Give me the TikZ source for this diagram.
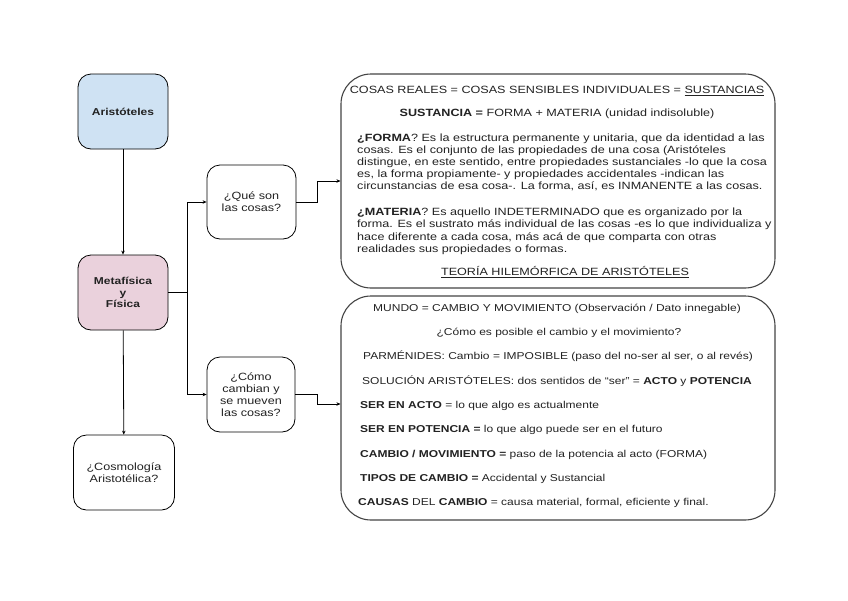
\documentclass[tikz,border=0pt]{standalone}
\usepackage{fontspec}
\setmainfont{Liberation Sans}[FakeStretch=1.2]
\usetikzlibrary{arrows.meta}
\definecolor{blueA}{HTML}{CFE2F3}
\definecolor{pinkA}{HTML}{EAD1DC}
\definecolor{edgeA}{HTML}{444444}
\definecolor{txtA}{HTML}{222222}
\begin{document}
\begin{tikzpicture}[x=1pt,y=-1pt,
  smallbox/.style={draw=black, line width=0.8pt, rounded corners=13pt, align=center,
    font=\fontsize{10.5}{12}\selectfont, text=txtA, inner sep=0pt},
  bigbox/.style={draw=edgeA, line width=1.1pt, rounded corners=30pt, inner sep=0pt,
    minimum width=434pt},
  txt/.style={inner sep=0pt, text height=7.5pt, text depth=0pt,
    font=\fontsize{10.5}{12}\selectfont, text=txtA},
  txtb/.style={txt, font=\fontsize{10}{12}\selectfont},
  conn/.style={draw=black, line width=0.8pt},
  arr/.style={conn, -{Stealth[length=4pt,width=3.5pt]}}]
\useasboundingbox (0,0) rectangle (848,600);

% left column
\node[smallbox, fill=blueA, minimum width=90pt, minimum height=75pt, font=\fontsize{10}{12}\selectfont\bfseries] (arist) at (123,111.5) {Aristóteles};
\node[smallbox, fill=pinkA, minimum width=90pt, minimum height=75pt, font=\fontsize{10}{11.5}\selectfont\bfseries] (meta) at (123,292.5) {Metafísica\\y\\Física};
\node[smallbox, minimum width=101pt, minimum height=75pt] (cosmo) at (124,472.5) {¿Cosmología\\Aristotélica?};

% questions
\node[smallbox, minimum width=89pt, minimum height=74pt] (que) at (251.5,202) {¿Qué son\\las cosas?};
\node[smallbox, minimum width=88pt, minimum height=75pt] (como) at (251,394.5) {¿Cómo\\cambian y\\se mueven\\las cosas?};

% big boxes
\node[bigbox, minimum height=214pt] (box1) at (558,181) {};
\node[bigbox, minimum height=224pt] (box2) at (558,408) {};

% connectors
\coordinate (jn) at (187,292.5);
\coordinate (q1) at (317,202);
\coordinate (c1) at (317,394.5);
\draw[arr] (arist) -- (meta);
\draw[arr] (meta) -- (cosmo);
\draw[conn] (meta.east) -- (jn);
\draw[arr] (jn) |- (que.west);
\draw[arr] (jn) |- (como.west);
\draw[arr] (que.east) -- (q1) |- (box1.west);
\draw[arr] (como.east) -- (c1) |- ([yshift=4pt]box2.west);

% box 1 text
\node[txt] (b1l1) at (557,90) {COSAS REALES = COSAS SENSIBLES INDIVIDUALES = \underline{SUSTANCIAS}};
\node[txt] (b1l2) at (557,113) {\textbf{SUSTANCIA =} FORMA + MATERIA (unidad indisoluble)};
\node[txt, anchor=west] (b1l3) at (357,138) {\textbf{¿FORMA}? Es la estructura permanente y unitaria, que da identidad a las};
\node[txt, anchor=west] (b1l4) at (357,150) {cosas. Es el conjunto de las propiedades de una cosa (Aristóteles};
\node[txt, anchor=west] (b1l5) at (357,162) {distingue, en este sentido, entre propiedades sustanciales -lo que la cosa};
\node[txt, anchor=west] (b1l6) at (357,174) {es, la forma propiamente- y propiedades accidentales -indican las};
\node[txt, anchor=west] (b1l7) at (357,186) {circunstancias de esa cosa-. La forma, así, es INMANENTE a las cosas.};
\node[txt, anchor=west] (b1l8) at (357,212) {\textbf{¿MATERIA}? Es aquello INDETERMINADO que es organizado por la};
\node[txt, anchor=west] (b1l9) at (357,224) {forma. Es el sustrato más individual de las cosas -es lo que individualiza y};
\node[txt, anchor=west] (b1l10) at (357,236.5) {hace diferente a cada cosa, más acá de que comparta con otras};
\node[txt, anchor=west] (b1l11) at (357,249) {realidades sus propiedades o formas.};
\node[txt] (b1l12) at (565,272) {\underline{TEORÍA HILEMÓRFICA DE ARISTÓTELES}};

% box 2 text
\node[txtb] (b2l1) at (557,308) {MUNDO = CAMBIO Y MOVIMIENTO (Observación / Dato innegable)};
\node[txtb] (b2l2) at (559,332) {¿Cómo es posible el cambio y el movimiento?};
\node[txtb] (b2l3) at (558,356) {PARMÉNIDES: Cambio = IMPOSIBLE (paso del no-ser al ser, o al revés)};
\node[txtb] (b2l4) at (557,381) {SOLUCIÓN ARISTÓTELES: dos sentidos de “ser” = \textbf{ACTO} y \textbf{POTENCIA}};
\node[txtb, anchor=west] (b2l5) at (360,405) {\textbf{SER EN ACTO} = lo que algo es actualmente};
\node[txtb, anchor=west] (b2l6) at (360,429) {\textbf{SER EN POTENCIA =} lo que algo puede ser en el futuro};
\node[txtb, anchor=west] (b2l7) at (360,454) {\textbf{CAMBIO / MOVIMIENTO =} paso de la potencia al acto (FORMA)};
\node[txtb, anchor=west] (b2l8) at (360,478) {\textbf{TIPOS DE CAMBIO =} Accidental y Sustancial};
\node[txtb, anchor=west] (b2l9) at (358,502) {\textbf{CAUSAS} DEL \textbf{CAMBIO} = causa material, formal, eficiente y final.};
\end{tikzpicture}
\end{document}
